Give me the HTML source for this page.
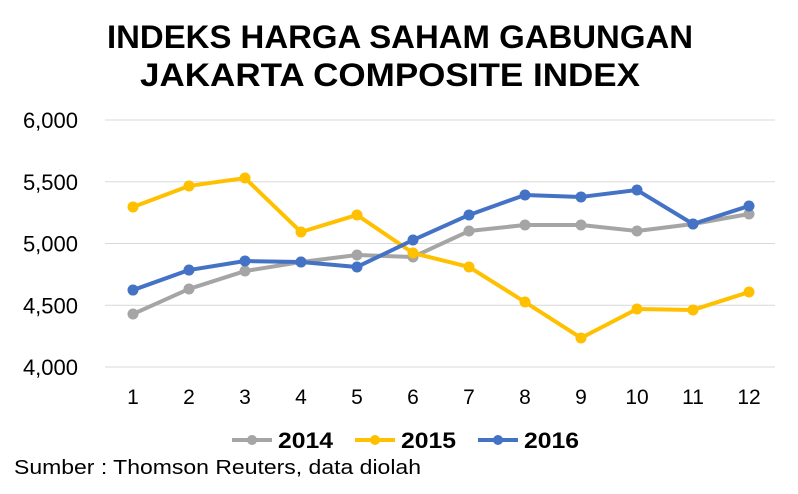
<!DOCTYPE html>
<html><head><meta charset="utf-8"><style>
body{margin:0;background:#fff;}
svg{display:block;font-family:"Liberation Sans",sans-serif;}
</style></head><body>
<svg id="chart" width="798" height="494">
<text x="107" y="48" font-size="32" font-weight="bold" fill="#000" textLength="586" lengthAdjust="spacingAndGlyphs">INDEKS HARGA SAHAM GABUNGAN</text>
<text x="140" y="86" font-size="32" font-weight="bold" fill="#000" textLength="500" lengthAdjust="spacingAndGlyphs">JAKARTA COMPOSITE INDEX</text>
<g id="grid"></g><g id="yt"></g><g id="xt"></g><g id="series"></g>
<g>
<line x1="232" y1="440" x2="272" y2="440" stroke="#A5A5A5" stroke-width="4"/><circle cx="252" cy="440" r="5" fill="#A5A5A5"/>
<text x="278" y="448" font-size="22" font-weight="bold" textLength="55" lengthAdjust="spacingAndGlyphs">2014</text>
<line x1="355" y1="440" x2="395" y2="440" stroke="#FFC000" stroke-width="4"/><circle cx="375" cy="440" r="5" fill="#FFC000"/>
<text x="401" y="448" font-size="22" font-weight="bold" textLength="55" lengthAdjust="spacingAndGlyphs">2015</text>
<line x1="478" y1="440" x2="518" y2="440" stroke="#4472C4" stroke-width="4"/><circle cx="498" cy="440" r="5" fill="#4472C4"/>
<text x="524" y="448" font-size="22" font-weight="bold" textLength="55" lengthAdjust="spacingAndGlyphs">2016</text>
</g>
<text x="14" y="474" font-size="20" fill="#000" textLength="407" lengthAdjust="spacingAndGlyphs">Sumber : Thomson Reuters, data diolah</text>
</svg>
<script>
const categories=[1,2,3,4,5,6,7,8,9,10,11,12];
const yTicks=[4000,4500,5000,5500,6000];
const s2014=[4429,4632,4777,4850,4907,4891,5101,5150,5150,5101,5158,5239];
const s2015=[5296,5466,5530,5093,5231,4923,4810,4526,4235,4470,4462,4607];
const s2016=[4623,4785,4858,4850,4810,5028,5231,5393,5377,5433,5158,5304];
const NS="http://www.w3.org/2000/svg";
function x(i){return 133+(i)*(749-133)/(categories.length-1);}
function y(v){return 367-(v-4000)/2000*247;}
function mk(t,a,p){const e=document.createElementNS(NS,t);for(const k in a)e.setAttribute(k,a[k]);p.appendChild(e);return e;}
const grid=document.getElementById('grid'),yt=document.getElementById('yt'),xt=document.getElementById('xt'),sg=document.getElementById('series');
yTicks.forEach(v=>{
 const l=mk('line',{x1:105,x2:775,y1:y(v),y2:y(v),stroke:'#D9D9D9','stroke-width':1},grid);
 
 
 const t=mk('text',{x:78,y:y(v)+8,'text-anchor':'end','font-size':22,fill:'#000'},yt);
 t.textContent=v.toLocaleString('en-US');
 
 
});
categories.forEach((c,i)=>{
 const t=mk('text',{x:x(i),y:404,'text-anchor':'middle','font-size':21,fill:'#000'},xt);
 t.textContent=c;
 
 
});
[[s2014,'#A5A5A5','2014'],[s2015,'#FFC000','2015'],[s2016,'#4472C4','2016']].forEach(([d,col,n])=>{
 const p=mk('polyline',{points:d.map((v,i)=>x(i)+','+y(v)).join(' '),fill:'none',stroke:col,'stroke-width':4,'stroke-linejoin':'round'},sg);
 
 
 d.forEach((v,i)=>{
  const c=mk('circle',{cx:x(i),cy:y(v),r:5.5,fill:col},sg);
  
  
 });
});
</script>
</body></html>
